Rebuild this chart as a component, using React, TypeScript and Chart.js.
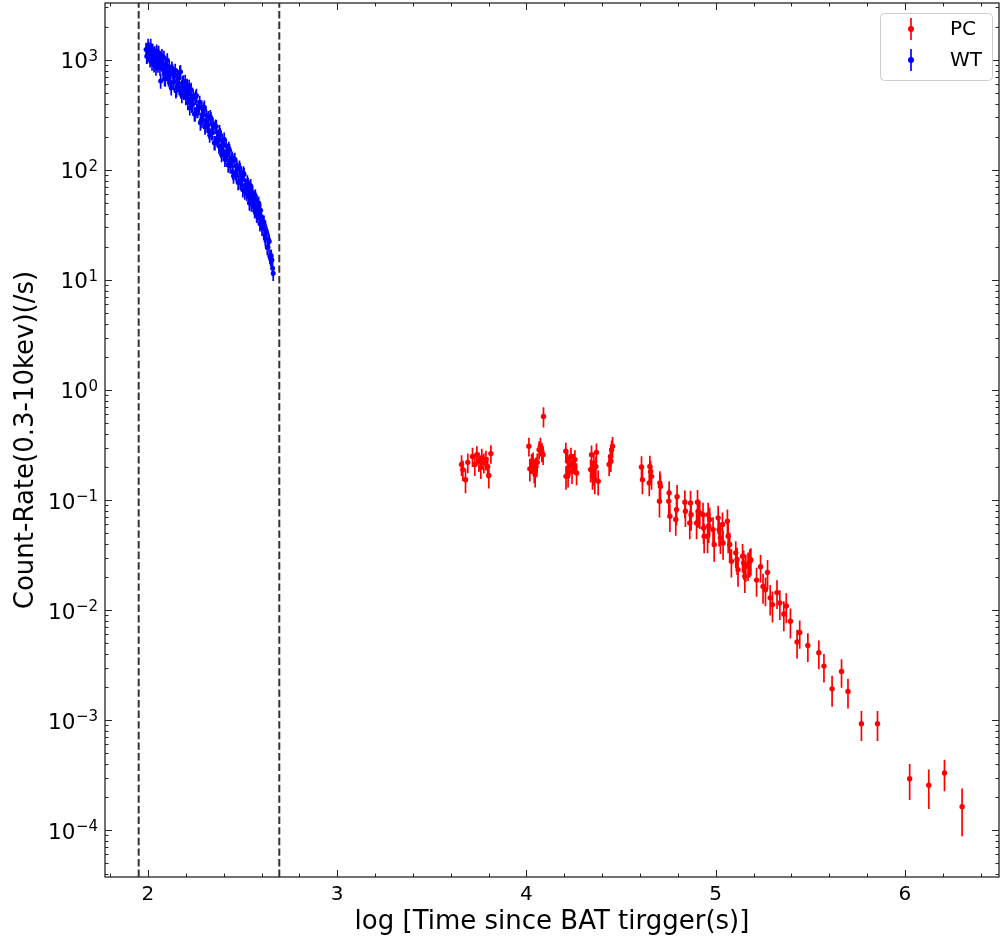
import React, { useEffect, useRef } from 'react';
import { Chart, registerables } from 'chart.js';

Chart.register(...registerables);

// ---------------- data ----------------
const pcLogTime = [
  3.657, 3.664, 3.678, 3.690, 3.715, 3.727, 3.738, 3.749, 3.759, 3.764, 3.775, 3.786, 3.795, 3.801, 3.812,
  4.013, 4.018, 4.027, 4.035, 4.041, 4.046, 4.050, 4.057, 4.067, 4.074, 4.081, 4.088, 4.090,
  4.208, 4.209, 4.217, 4.220, 4.226, 4.235, 4.241, 4.247, 4.256, 4.265,
  4.339, 4.344, 4.349, 4.352, 4.356, 4.361, 4.367, 4.370, 4.379,
  4.437, 4.444, 4.446, 4.450, 4.455,
  4.608, 4.613, 4.649, 4.652, 4.656, 4.661, 4.703, 4.705, 4.708, 4.752, 4.754, 4.758,
  4.789, 4.793, 4.796, 4.837, 4.840, 4.863, 4.867, 4.870, 4.899, 4.904, 4.907, 4.916,
  4.933, 4.936, 4.939, 4.957, 4.960, 4.963, 4.968, 4.986, 4.992, 5.013, 5.018, 5.025,
  5.036, 5.039, 5.062, 5.066, 5.074, 5.083, 5.106, 5.113, 5.118, 5.142, 5.148, 5.154,
  5.159, 5.171, 5.180, 5.186, 5.216, 5.237, 5.250, 5.263, 5.274, 5.288, 5.300, 5.324,
  5.339, 5.360, 5.373, 5.395, 5.430, 5.444, 5.487, 5.545, 5.572, 5.615, 5.665, 5.699,
  5.770, 5.855, 6.025, 6.126, 6.209, 6.302,
];
const pcRate = [
  0.210, 0.189, 0.153, 0.220, 0.249, 0.210, 0.258, 0.225, 0.197, 0.243, 0.219, 0.233, 0.202, 0.167, 0.264,
  0.308, 0.192, 0.217, 0.225, 0.182, 0.170, 0.202, 0.220, 0.287, 0.308, 0.277, 0.258, 0.575,
  0.277, 0.164, 0.225, 0.170, 0.202, 0.249, 0.182, 0.217, 0.233, 0.176,
  0.189, 0.258, 0.164, 0.176, 0.217, 0.153, 0.202, 0.271, 0.148,
  0.210, 0.249, 0.225, 0.287, 0.308,
  0.200, 0.153, 0.143, 0.202, 0.182, 0.164, 0.0973, 0.143, 0.133, 0.0973, 0.116, 0.0711,
  0.0664, 0.0818, 0.107, 0.0953, 0.0789, 0.0619, 0.0941, 0.0736, 0.0619, 0.0953, 0.0789, 0.0764,
  0.0736, 0.0558, 0.0468, 0.0468, 0.0736, 0.0577, 0.0664, 0.0538, 0.0394, 0.0688, 0.0538, 0.0453,
  0.0598, 0.0407, 0.0641, 0.0468, 0.0394, 0.0277, 0.0331, 0.0288, 0.0233, 0.0308, 0.0268, 0.0203,
  0.0250, 0.0259, 0.0277, 0.0285, 0.0187, 0.0247, 0.0164, 0.0153, 0.0220, 0.0129, 0.0112, 0.0144,
  0.0116, 0.0092, 0.0109, 0.0079, 0.00512, 0.00625, 0.00476, 0.00409, 0.00309, 0.00192, 0.00276, 0.00182,
  0.000925, 0.000925, 0.000293, 0.000255, 0.000330, 0.000163,
];
const pcErr = [
  0.045, 0.040, 0.038, 0.045, 0.050, 0.045, 0.050, 0.045, 0.042, 0.050, 0.045, 0.048, 0.044, 0.040, 0.050,
  0.060, 0.045, 0.045, 0.045, 0.040, 0.040, 0.042, 0.045, 0.055, 0.060, 0.055, 0.050, 0.120,
  0.055, 0.040, 0.050, 0.040, 0.045, 0.050, 0.042, 0.045, 0.050, 0.040,
  0.045, 0.055, 0.040, 0.042, 0.050, 0.040, 0.045, 0.055, 0.038,
  0.045, 0.050, 0.045, 0.060, 0.065,
  0.050, 0.040, 0.035, 0.050, 0.045, 0.040, 0.028, 0.040, 0.038, 0.028, 0.032, 0.020,
  0.019, 0.023, 0.030, 0.027, 0.022, 0.018, 0.027, 0.021, 0.018, 0.028, 0.023, 0.022,
  0.021, 0.016, 0.014, 0.014, 0.021, 0.017, 0.019, 0.016, 0.012, 0.020, 0.016, 0.013,
  0.017, 0.012, 0.018, 0.014, 0.011, 0.008, 0.009, 0.008, 0.007, 0.009, 0.008, 0.006,
  0.007, 0.0075, 0.008, 0.008, 0.0055, 0.007, 0.005, 0.0045, 0.0065, 0.004, 0.0035, 0.0042,
  0.0035, 0.0028, 0.0033, 0.0024, 0.0015, 0.0018, 0.0014, 0.0012, 0.0009, 0.0006, 0.0008, 0.00055,
  0.00028, 0.00028, 0.000105, 0.0001, 0.000105, 0.000075,
];

// WT mode, first set of exposures
const wtLogTimeA = [
  1.990, 1.997, 2.004, 2.011, 2.018, 2.025, 2.032, 2.039, 2.046, 2.053,
  2.060, 2.067, 2.074, 2.081, 2.088, 2.095, 2.102, 2.109, 2.116, 2.123,
  2.130, 2.137, 2.144, 2.151, 2.158, 2.165, 2.172, 2.179, 2.186, 2.193,
  2.200, 2.207, 2.214, 2.221, 2.228, 2.235, 2.242, 2.249, 2.256, 2.263,
  2.270, 2.277, 2.284, 2.291, 2.298, 2.305, 2.312, 2.319, 2.326, 2.333,
  2.340, 2.347, 2.354, 2.361, 2.368, 2.375, 2.382, 2.389, 2.396, 2.403,
  2.410, 2.417, 2.424, 2.431, 2.438, 2.445, 2.452, 2.459, 2.466, 2.473,
  2.480, 2.487, 2.494, 2.501, 2.508, 2.515, 2.522, 2.529, 2.536, 2.543,
  2.550, 2.557, 2.564, 2.571, 2.578, 2.585, 2.592, 2.599, 2.606, 2.613,
  2.620, 2.627, 2.634, 2.641, 2.648, 2.655, 2.662,
];
const wtRateA = [
  1246, 1095, 1258, 1003, 1115, 1221, 905, 993, 1204, 900,
  1029, 643, 1092, 814, 680, 908, 1000, 670, 740, 558,
  794, 637, 805, 540, 672, 563, 781, 476, 633, 538,
  455, 587, 490, 367, 540, 396, 443, 324, 475, 347,
  368, 268, 374, 284, 372, 254, 285, 299, 208, 293,
  219, 244, 177, 248, 194, 165, 209, 138, 172, 190,
  133, 140, 111, 150, 116, 128, 88, 125, 92, 101,
  78, 101, 81, 66, 91, 73, 61, 74, 50, 72,
  54, 57, 42.5, 54, 39.6, 50, 32.4, 37.8, 31.4, 33.6,
  23.8, 27, 19.8, 22.4, 15.6, 15.2, 11.5,
];
// WT mode, interleaved bins
const wtLogTimeB = [
  1.9935, 2.0005, 2.0075, 2.0145, 2.0215, 2.0285, 2.0355, 2.0425, 2.0495, 2.0565,
  2.0635, 2.0705, 2.0775, 2.0845, 2.0915, 2.0985, 2.1055, 2.1125, 2.1195, 2.1265,
  2.1335, 2.1405, 2.1475, 2.1545, 2.1615, 2.1685, 2.1755, 2.1825, 2.1895, 2.1965,
  2.2035, 2.2105, 2.2175, 2.2245, 2.2315, 2.2385, 2.2455, 2.2525, 2.2595, 2.2665,
  2.2735, 2.2805, 2.2875, 2.2945, 2.3015, 2.3085, 2.3155, 2.3225, 2.3295, 2.3365,
  2.3435, 2.3505, 2.3575, 2.3645, 2.3715, 2.3785, 2.3855, 2.3925, 2.3995, 2.4065,
  2.4135, 2.4205, 2.4275, 2.4345, 2.4415, 2.4485, 2.4555, 2.4625, 2.4695, 2.4765,
  2.4835, 2.4905, 2.4975, 2.5045, 2.5115, 2.5185, 2.5255, 2.5325, 2.5395, 2.5465,
  2.5535, 2.5605, 2.5675, 2.5745, 2.5815, 2.5885, 2.5955, 2.6025, 2.6095, 2.6165,
  2.6235, 2.6305, 2.6375, 2.6445, 2.6515, 2.6585,
];
const wtRateB = [
  1080, 1355, 1118, 1354, 938, 1132, 1160, 847, 1010, 1168,
  847, 1002, 848, 1053, 670, 829, 706, 868, 619, 844,
  626, 732, 524, 722, 614, 772, 519, 614, 508, 638,
  523, 410, 576, 437, 387, 470, 322, 458, 347, 376,
  412, 280, 320, 356, 246, 313, 257, 226, 305, 218,
  259, 177, 250, 193, 204, 223, 151, 186, 147, 125,
  166, 137, 157, 109, 125, 96, 123, 95, 108, 77,
  106, 77, 86, 94, 63, 69, 78, 57, 68, 49,
  62, 46, 58, 38.7, 46, 36.8, 43, 29.7, 33, 25.7,
  28.3, 19.7, 23.2, 16.4, 16.5, 12.8,
];
const wtRelErr = 0.15;

const xTickValues = [2, 3, 4, 5, 6];
const yTickExponents = [-4, -3, -2, -1, 0, 1, 2, 3];
const yTickBase = '10';
const yTickExponentText = ['\u22124', '\u22123', '\u22122', '\u22121', '0', '1', '2', '3'];
const cutLines = [1.951, 2.694];
const seriesLabels = ['PC', 'WT'];

const X_MIN = 1.773;
const X_MAX = 6.497;
const Y_MIN = 3.742e-5;
const Y_MAX = 3294;

// ---------------- style ----------------
const FONT = "'DejaVu Sans', sans-serif";
const RED = '#ff0000';
const BLUE = '#0000ff';
const INK = '#262626';

const pcPoints = pcLogTime.map((x, i) => ({ x, y: pcRate[i], err: pcErr[i] }));
const wtPoints = [
  ...wtLogTimeA.map((x, i) => ({ x, y: wtRateA[i], err: wtRateA[i] * wtRelErr })),
  ...wtLogTimeB.map((x, i) => ({ x, y: wtRateB[i], err: wtRateB[i] * wtRelErr })),
];

const errorBarPlugin = {
  id: 'errorBars',
  beforeDatasetsDraw(chart: any) {
    const { ctx, chartArea, scales } = chart;
    const xs = scales.x;
    const ys = scales.y;
    ctx.save();
    ctx.beginPath();
    ctx.rect(chartArea.left, chartArea.top, chartArea.right - chartArea.left, chartArea.bottom - chartArea.top);
    ctx.clip();
    chart.data.datasets.forEach((ds: any) => {
      ctx.strokeStyle = ds.backgroundColor;
      ctx.lineWidth = 1.7;
      ctx.beginPath();
      ds.data.forEach((p: any) => {
        const px = xs.getPixelForValue(p.x);
        const lo = Math.max(p.y - p.err, Y_MIN * 0.1);
        ctx.moveTo(px, ys.getPixelForValue(p.y + p.err));
        ctx.lineTo(px, ys.getPixelForValue(lo));
      });
      ctx.stroke();
    });
    ctx.restore();
  },
};

const framePlugin = {
  id: 'frameTicks',
  afterDatasetsDraw(chart: any) {
    const { ctx, chartArea, scales } = chart;
    const { left, right, top, bottom } = chartArea;
    const xs = scales.x;
    const ys = scales.y;
    ctx.save();
    // dashed vertical cut lines
    ctx.strokeStyle = '#333333';
    ctx.lineWidth = 2;
    ctx.setLineDash([7.4, 3.2]);
    cutLines.forEach((v) => {
      const px = xs.getPixelForValue(v);
      ctx.beginPath();
      ctx.moveTo(px, bottom);
      ctx.lineTo(px, top);
      ctx.stroke();
    });
    ctx.setLineDash([]);

    // tick marks (inward, all four sides)
    ctx.strokeStyle = INK;
    ctx.lineWidth = 1;
    ctx.beginPath();
    const vTick = (px: number, len: number) => {
      const p = Math.round(px) + 0.5;
      ctx.moveTo(p, bottom);
      ctx.lineTo(p, bottom - len);
      ctx.moveTo(p, top);
      ctx.lineTo(p, top + len);
    };
    const hTick = (py: number, len: number) => {
      const p = Math.round(py) + 0.5;
      ctx.moveTo(left, p);
      ctx.lineTo(left + len, p);
      ctx.moveTo(right, p);
      ctx.lineTo(right - len, p);
    };
    xTickValues.forEach((v) => vTick(xs.getPixelForValue(v), 7));
    for (let k = 9; k <= 32; k++) {
      const v = k / 5;
      if (k % 5 === 0) continue;
      if (v < X_MIN || v > X_MAX) continue;
      vTick(xs.getPixelForValue(v), 3.5);
    }
    yTickExponents.forEach((e) => hTick(ys.getPixelForValue(Math.pow(10, e)), 7));
    for (let e = -5; e <= 3; e++) {
      for (let m = 2; m <= 9; m++) {
        const v = m * Math.pow(10, e);
        if (v < Y_MIN || v > Y_MAX) continue;
        hTick(ys.getPixelForValue(v), 3.5);
      }
    }
    ctx.stroke();

    // frame
    ctx.lineWidth = 1.3;
    ctx.strokeRect(left, top, right - left, bottom - top);

    // y tick labels as 10 with raised exponent
    ctx.fillStyle = '#000000';
    ctx.textAlign = 'left';
    ctx.textBaseline = 'alphabetic';
    yTickExponents.forEach((e, i) => {
      const py = ys.getPixelForValue(Math.pow(10, e));
      const sup = yTickExponentText[i];
      ctx.font = `21.5px ${FONT}`;
      const wb = ctx.measureText(yTickBase).width;
      ctx.font = `15px ${FONT}`;
      const ws = ctx.measureText(sup).width;
      const x0 = left - 7 - wb - ws - 0.5;
      ctx.font = `21.5px ${FONT}`;
      ctx.fillText(yTickBase, x0, py + 8.5);
      ctx.font = `15px ${FONT}`;
      ctx.fillText(sup, x0 + wb + 0.5, py + 1);
    });
    ctx.restore();
  },
};

const legendPlugin = {
  id: 'errLegend',
  afterDraw(chart: any) {
    const { ctx } = chart;
    ctx.save();
    const bx = 880.5;
    const by = 13.5;
    const bw = 112;
    const bh = 67;
    ctx.beginPath();
    ctx.roundRect(bx, by, bw, bh, 4);
    ctx.fillStyle = 'rgba(255,255,255,0.8)';
    ctx.fill();
    ctx.strokeStyle = '#cccccc';
    ctx.lineWidth = 1;
    ctx.stroke();
    chart.data.datasets.forEach((ds: any, i: number) => {
      const cy = 29 + i * 31;
      const mx = 911;
      ctx.strokeStyle = ds.backgroundColor;
      ctx.lineWidth = 1.7;
      ctx.beginPath();
      ctx.moveTo(mx, cy - 11);
      ctx.lineTo(mx, cy + 11);
      ctx.stroke();
      ctx.fillStyle = ds.backgroundColor;
      ctx.beginPath();
      ctx.arc(mx, cy, 3, 0, Math.PI * 2);
      ctx.fill();
      ctx.fillStyle = '#000000';
      ctx.font = `20px ${FONT}`;
      ctx.textAlign = 'left';
      ctx.textBaseline = 'middle';
      ctx.fillText(ds.label, 950, cy + 1);
    });
    ctx.restore();
  },
};

export default function App() {
  const canvasRef = useRef<HTMLCanvasElement | null>(null);

  useEffect(() => {
    document.body.style.margin = '0';
    const canvas = canvasRef.current;
    if (!canvas) return;
    const chart = new Chart(canvas, {
      type: 'scatter',
      data: {
        datasets: [
          {
            label: seriesLabels[0],
            data: pcPoints,
            backgroundColor: RED,
            borderColor: RED,
            pointRadius: 2.7,
            pointBorderWidth: 0,
            pointHoverRadius: 2.7,
          },
          {
            label: seriesLabels[1],
            data: wtPoints,
            backgroundColor: BLUE,
            borderColor: BLUE,
            pointRadius: 2.5,
            pointBorderWidth: 0,
            pointHoverRadius: 2.5,
          },
        ],
      },
      options: {
        responsive: false,
        animation: false,
        devicePixelRatio: 1,
        events: [],
        layout: { autoPadding: false, padding: { top: 3, right: 3, left: 0, bottom: 0 } },
        plugins: {
          legend: { display: false },
          tooltip: { enabled: false },
        },
        scales: {
          x: {
            type: 'linear',
            min: X_MIN,
            max: X_MAX,
            afterFit: (s: any) => {
              s.height = 71;
            },
            afterBuildTicks: (s: any) => {
              s.ticks = xTickValues.map((v) => ({ value: v }));
            },
            grid: { display: false, drawTicks: false },
            border: { display: false },
            ticks: {
              font: { family: FONT, size: 20 },
              color: '#000000',
              padding: 6,
              maxRotation: 0,
              autoSkip: false,
              callback: (v: any) => String(v),
            },
            title: {
              display: true,
              text: 'log [Time since BAT tirgger(s)]',
              font: { family: FONT, size: 26 },
              color: '#000000',
              padding: { top: 0, bottom: 10 },
            },
          },
          y: {
            type: 'logarithmic',
            min: Y_MIN,
            max: Y_MAX,
            afterFit: (s: any) => {
              s.width = 105;
            },
            afterBuildTicks: (s: any) => {
              s.ticks = yTickExponents.map((e) => ({ value: Math.pow(10, e) }));
            },
            grid: { display: false, drawTicks: false },
            border: { display: false },
            ticks: { display: false },
            title: {
              display: true,
              text: 'Count-Rate(0.3-10kev)(/s)',
              font: { family: FONT, size: 26 },
              color: '#000000',
              padding: { top: 11, bottom: 0 },
            },
          },
        },
      } as any,
      plugins: [errorBarPlugin, framePlugin, legendPlugin],
    });
    return () => chart.destroy();
  }, []);

  return (
    <div style={{ width: 1002, height: 948, background: '#ffffff' }}>
      <canvas ref={canvasRef} width={1002} height={948} style={{ display: 'block' }} />
    </div>
  );
}
